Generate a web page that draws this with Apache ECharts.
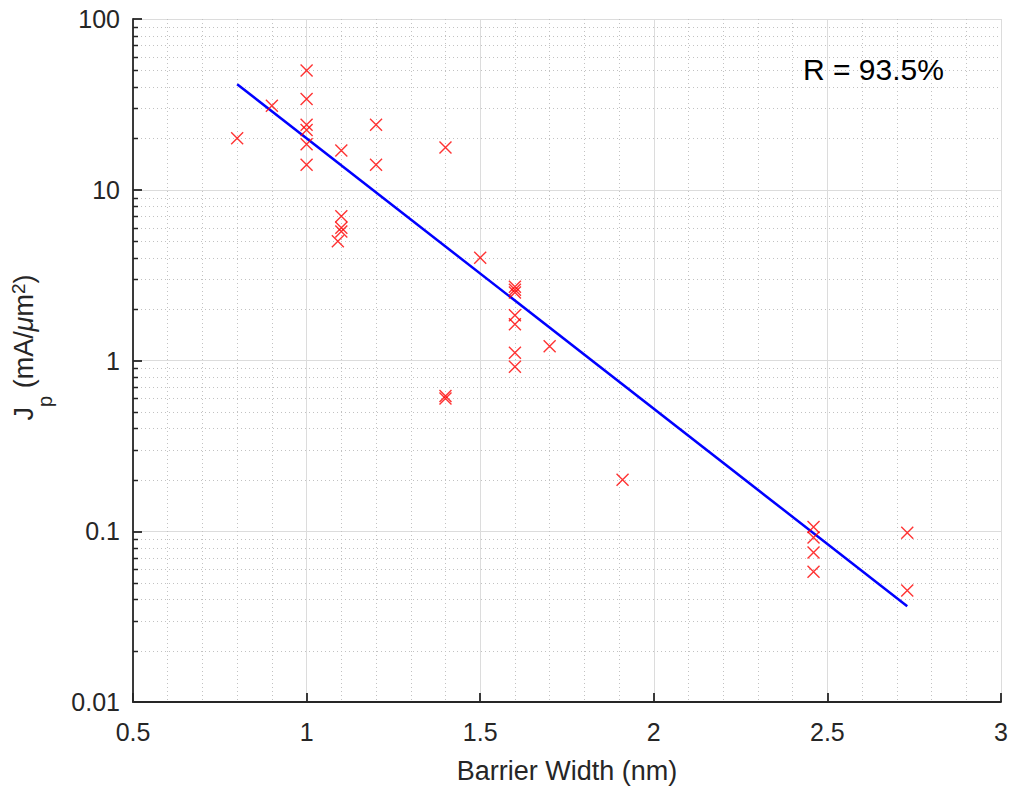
<!DOCTYPE html>
<html>
<head>
<meta charset="utf-8">
<title>Peak current density vs barrier width</title>
<script src="https://cdn.jsdelivr.net/npm/echarts@6/dist/echarts.min.js"></script>
<style>
  html, body { margin: 0; padding: 0; background: #ffffff; }
  #chart { width: 1014px; height: 789px; }
</style>
</head>
<body>
<div id="chart"></div>
<script>
// Measured devices: barrier width (nm) and peak current density Jp (mA/um^2)
const barrierWidth = [
  0.8, 0.9,
  1.0, 1.0, 1.0, 1.0, 1.0, 1.0,
  1.09, 1.1, 1.1, 1.1, 1.1,
  1.2, 1.2,
  1.4, 1.4, 1.4,
  1.5,
  1.6, 1.6, 1.6, 1.6, 1.6, 1.6, 1.6,
  1.7, 1.91,
  2.46, 2.46, 2.46, 2.46,
  2.73, 2.73
];
const peakCurrent = [
  20, 31,
  50, 34, 24, 22.4, 18.5, 14,
  5.0, 17, 7.0, 6.0, 5.7,
  24, 14,
  17.7, 0.62, 0.60,
  4.0,
  2.7, 2.6, 2.5, 1.84, 1.63, 1.11, 0.92,
  1.21, 0.20,
  0.106, 0.092, 0.075, 0.058,
  0.098, 0.045
];

// Exponential fit drawn as a straight line on the log axis
const fitWidth = [0.8, 2.73];
const fitCurrent = [41.5, 0.0364];
const fitLabel = 'R = 93.5%';

// Axis ranges and tick values
const xRange = [0.5, 3];
const xStep = 0.5;
const yRange = [0.01, 100];
const yMinorTicks = [
  0.02, 0.03, 0.04, 0.05, 0.06, 0.07, 0.08, 0.09,
  0.2, 0.3, 0.4, 0.5, 0.6, 0.7, 0.8, 0.9,
  2, 3, 4, 5, 6, 7, 8, 9,
  20, 30, 40, 50, 60, 70, 80, 90
];

const axisColor = '#262626';
const majorGrid = '#dcdcdc';
const minorGrid = '#c2c2c2';
const fontFamily = '"Liberation Sans", Arial, Helvetica, sans-serif';

const points = barrierWidth.map((w, i) => [w, peakCurrent[i]]);
const fitPoints = fitWidth.map((w, i) => [w, fitCurrent[i]]);
const minorRows = yMinorTicks.map(v => [xRange[0], v]);

// Dotted minor grid rows plus short inward ticks on the log axis
function renderMinorRow(params, api) {
  const cs = params.coordSys;
  const y = Math.round(api.coord([xRange[0], api.value(1)])[1]) + 0.5;
  return {
    type: 'group',
    children: [
      {
        type: 'line',
        shape: { x1: cs.x, y1: y, x2: cs.x + cs.width, y2: y },
        style: { stroke: minorGrid, lineWidth: 1, lineDash: [1, 3] },
        silent: true
      },
      {
        type: 'line',
        shape: { x1: cs.x, y1: y, x2: cs.x + 5, y2: y },
        style: { stroke: axisColor, lineWidth: 1.5 },
        silent: true
      }
    ]
  };
}

const chart = echarts.init(document.getElementById('chart'), null, { renderer: 'svg' });

chart.setOption({
  animation: false,
  backgroundColor: '#ffffff',
  grid: { left: 133, right: 13, top: 19, bottom: 87, containLabel: false, outerBoundsMode: 'none' },
  xAxis: {
    type: 'value',
    min: xRange[0],
    max: xRange[1],
    interval: xStep,
    name: 'Barrier Width (nm)',
    nameLocation: 'middle',
    nameGap: 55,
    nameTextStyle: { fontFamily, fontSize: 27, color: axisColor },
    axisLine: { show: true, onZero: false, lineStyle: { color: axisColor, width: 1.8 } },
    axisTick: { show: true, inside: true, length: 9, lineStyle: { color: axisColor, width: 1.8 } },
    axisLabel: {
      fontFamily, fontSize: 25, color: axisColor, margin: 17,
      formatter: v => String(+v.toFixed(2))
    },
    splitLine: { show: true, lineStyle: { color: majorGrid, width: 1 } },
    minorTick: { show: false, splitNumber: 5 },
    minorSplitLine: { show: true, lineStyle: { color: minorGrid, width: 1, type: [1, 3] } }
  },
  yAxis: {
    type: 'log',
    logBase: 10,
    min: yRange[0],
    max: yRange[1],
    name: '{m|J}{s|p}{m| (mA/}{i|μ}{m|m}{u|2}{m|)}',
    nameLocation: 'middle',
    nameRotate: 90,
    nameGap: 78,
    nameTextStyle: {
      padding: [0, 0, 0, 26],
      rich: {
        m: { fontFamily, fontSize: 27, color: axisColor, lineHeight: 62, verticalAlign: 'middle' },
        i: { fontFamily, fontSize: 27, fontStyle: 'italic', color: axisColor, lineHeight: 62, verticalAlign: 'middle' },
        s: { fontFamily, fontSize: 20, color: axisColor, height: 21, lineHeight: 21, verticalAlign: 'bottom' },
        u: { fontFamily, fontSize: 19, color: axisColor, height: 51, lineHeight: 51, verticalAlign: 'top' }
      }
    },
    axisLine: { show: true, onZero: false, lineStyle: { color: axisColor, width: 1.8 } },
    axisTick: { show: true, inside: true, length: 9, lineStyle: { color: axisColor, width: 1.8 } },
    axisLabel: {
      fontFamily, fontSize: 25, color: axisColor, margin: 13,
      formatter: v => String(+Number(v).toPrecision(6))
    },
    splitLine: { show: true, lineStyle: { color: majorGrid, width: 1 } }
  },
  graphic: [
    {
      type: 'text',
      left: 803,
      top: 54,
      style: { text: fitLabel, fontFamily, fontSize: 30, fill: '#000000' },
      z: 10
    }
  ],
  series: [
    {
      name: 'minor grid',
      type: 'custom',
      data: minorRows,
      encode: { x: 0, y: 1 },
      renderItem: renderMinorRow,
      silent: true,
      z: 0
    },
    {
      name: 'fit',
      type: 'line',
      data: fitPoints,
      showSymbol: false,
      symbol: 'none',
      lineStyle: { color: '#0000ff', width: 2.5 },
      silent: true,
      z: 3
    },
    {
      name: 'devices',
      type: 'scatter',
      data: points,
      symbol: 'path://M0,0L10,10M10,0L0,10',
      symbolSize: 12,
      itemStyle: { color: 'rgba(0,0,0,0)', borderColor: '#ff0000', borderWidth: 1.4 },
      z: 4
    }
  ]
});
</script>
</body>
</html>
